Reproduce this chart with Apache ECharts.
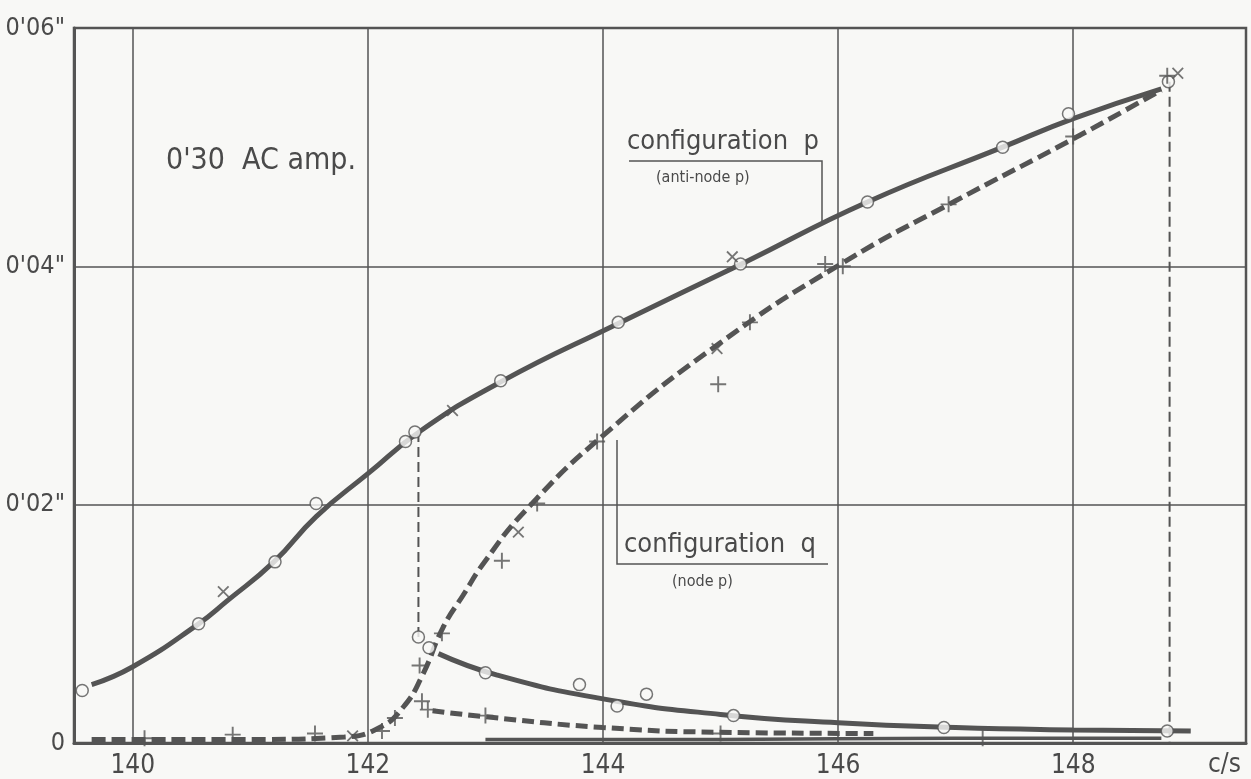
<!DOCTYPE html>
<html>
<head>
<meta charset="utf-8">
<title>configuration p / q - 0'30 AC amp.</title>
<script src="https://cdn.jsdelivr.net/npm/echarts@6/dist/echarts.min.js"></script>
<style>
  html, body { margin: 0; padding: 0; background: #f8f8f6; }
  #chart { width: 1251px; height: 779px; }
</style>
</head>
<body>
<div id="chart"></div>
<script>
// frequency (c/s) vs amplitude (inches)
const xTicks = [140, 142, 144, 146, 148];
const yTicks = [0, 0.02, 0.04, 0.06];

// drawn curves
const pUpper = [[139.65, 0.0049], [140.0, 0.0064], [140.56, 0.0100], [140.8, 0.0119], [141.2, 0.0152],
  [141.56, 0.0190], [142.0, 0.0226], [142.45, 0.0262], [143.13, 0.0303], [144.13, 0.0352],
  [145.2, 0.0403], [146.25, 0.0454], [147.4, 0.0500], [148.0, 0.0524], [148.75, 0.0549]];
const pLower = [[142.6, 0.0075], [143.1, 0.0057], [144.0, 0.0037], [145.0, 0.0024],
  [146.0, 0.0017], [147.0, 0.0013], [148.0, 0.0011], [149.0, 0.0010]];
const qCurve = [[139.65, 0.0003], [141.0, 0.0003], [141.8, 0.0005], [142.1, 0.0013],
  [142.3, 0.0030], [142.46, 0.0056], [142.64, 0.0097], [142.81, 0.0124], [143.0, 0.0153], [143.34, 0.0195],
  [144.0, 0.0258], [145.0, 0.0336], [146.04, 0.0403], [147.0, 0.0455],
  [148.0, 0.0507], [148.75, 0.0548]];
const qLower = [[142.55, 0.0027], [143.0, 0.0022], [144.0, 0.0013], [145.0, 0.0009], [146.3, 0.0008]];
const baseTrace = [[143.0, 0.0003], [145.0, 0.0003], [147.0, 0.0004], [148.75, 0.0004]];
const jumpP = [[142.43, 0.0261], [142.43, 0.0089]];
const jumpQ = [[148.82, 0.0555], [148.82, 0]];

// plotted observations
const circlePts = [[139.57, 0.0044], [140.56, 0.0100], [141.21, 0.0152], [141.56, 0.0201], [142.32, 0.0253],
  [142.40, 0.0261], [143.13, 0.0304], [144.13, 0.0353], [145.17, 0.0402], [146.25, 0.0454], [147.40, 0.0500],
  [147.96, 0.0528], [148.81, 0.0555],
  [142.43, 0.0089], [142.52, 0.0080], [143.0, 0.0059], [143.80, 0.0049], [144.12, 0.0031], [144.37, 0.0041],
  [145.11, 0.0023], [146.90, 0.0013], [148.80, 0.0010]];
const plusPts = [[140.1, 0.0004], [140.85, 0.0007], [141.55, 0.0008], [142.12, 0.0010], [142.23, 0.0021],
  [142.44, 0.0065], [142.63, 0.0092], [142.46, 0.0035], [142.51, 0.0028], [143.0, 0.0023], [145.0, 0.0008],
  [147.23, 0.0004], [143.14, 0.0153], [143.44, 0.0201], [143.95, 0.0253], [144.98, 0.0301], [145.25, 0.0353],
  [145.89, 0.0402], [146.04, 0.0400], [146.94, 0.0452], [148.0, 0.0509], [148.80, 0.0560]];
const crossPts = [[140.77, 0.0127], [141.87, 0.0006], [142.72, 0.0279], [143.28, 0.0177], [144.97, 0.0331],
  [145.10, 0.0408], [148.89, 0.0562]];

const ink = '#545454';
const textInk = '#4a4a4a';
const font = 'DejaVu Sans Condensed';
const plusPath = 'path://M4.4,0 H5.6 V10 H4.4 Z M0,4.4 H10 V5.6 H0 Z';

function yLabel(v) {
  if (v === 0) return '0';
  return "0'0" + Math.round(v * 100) + '"';
}

function curve(data, dash, width) {
  return {
    type: 'line', data: data, smooth: 0.5, symbol: 'none',
    lineStyle: { color: ink, width: width || 5, type: dash || 'solid', cap: 'butt' },
    z: 2, silent: true
  };
}

const chart = echarts.init(document.getElementById('chart'));
chart.setOption({
  backgroundColor: '#f8f8f6',
  animation: false,
  grid: { left: 74, right: 5, top: 28, bottom: 34, show: true, borderColor: ink, borderWidth: 2.5 },
  xAxis: {
    type: 'value', min: 139.5, max: 149.47,
    axisLine: { lineStyle: { color: ink, width: 3 } },
    axisTick: { show: false, customValues: xTicks },
    axisLabel: { customValues: xTicks, color: textInk, fontFamily: font, fontSize: 26, margin: 10 },
    splitLine: { show: true, lineStyle: { color: ink, width: 1.5 } }
  },
  yAxis: {
    type: 'value', min: 0, max: 0.06, interval: 0.02,
    axisLine: { show: true, lineStyle: { color: ink, width: 3 } },
    axisTick: { show: false },
    axisLabel: { formatter: yLabel, color: textInk, fontFamily: font, fontSize: 25, margin: 9 },
    splitLine: { show: true, lineStyle: { color: ink, width: 1.5 } }
  },
  series: [
    curve(pUpper),
    curve(pLower),
    curve(qCurve, [14, 6]),
    curve(qLower, [12, 6]),
    curve(baseTrace, 'solid', 3.5),
    { type: 'line', data: jumpP, symbol: 'none', lineStyle: { color: ink, width: 2, type: [10, 5] }, z: 2 },
    { type: 'line', data: jumpQ, symbol: 'none', lineStyle: { color: ink, width: 2, type: [10, 5] }, z: 2 },
    { type: 'scatter', data: circlePts, symbol: 'circle', symbolSize: 12, z: 5,
      itemStyle: { color: '#f8f8f6', borderColor: ink, borderWidth: 1.5 } },
    { type: 'scatter', data: plusPts, symbol: plusPath, symbolSize: 16, z: 6, itemStyle: { color: ink } },
    { type: 'scatter', data: crossPts, symbol: plusPath, symbolSize: 15, symbolRotate: 45, z: 6, itemStyle: { color: ink } }
  ],
  graphic: [
    { type: 'text', left: 166, top: 146, style: { text: "0'30  AC amp.", fill: textInk, font: '30px "' + font + '"' } },
    { type: 'text', left: 627, top: 128, style: { text: 'configuration  p', fill: textInk, font: '27px "' + font + '"' } },
    { type: 'text', left: 656, top: 170, style: { text: '(anti-node p)', fill: textInk, font: '16px "' + font + '"' } },
    { type: 'polyline', shape: { points: [[629, 161], [822, 161], [822, 222]] }, style: { stroke: ink, lineWidth: 1.5, fill: null } },
    { type: 'text', left: 624, top: 531, style: { text: 'configuration  q', fill: textInk, font: '27px "' + font + '"' } },
    { type: 'text', left: 672, top: 574, style: { text: '(node p)', fill: textInk, font: '16px "' + font + '"' } },
    { type: 'polyline', shape: { points: [[617, 440], [617, 564], [828, 564]] }, style: { stroke: ink, lineWidth: 1.5, fill: null } },
    { type: 'text', left: 1208, top: 752, style: { text: 'c/s', fill: textInk, font: '26px "' + font + '"' } }
  ]
});
</script>
</body>
</html>
